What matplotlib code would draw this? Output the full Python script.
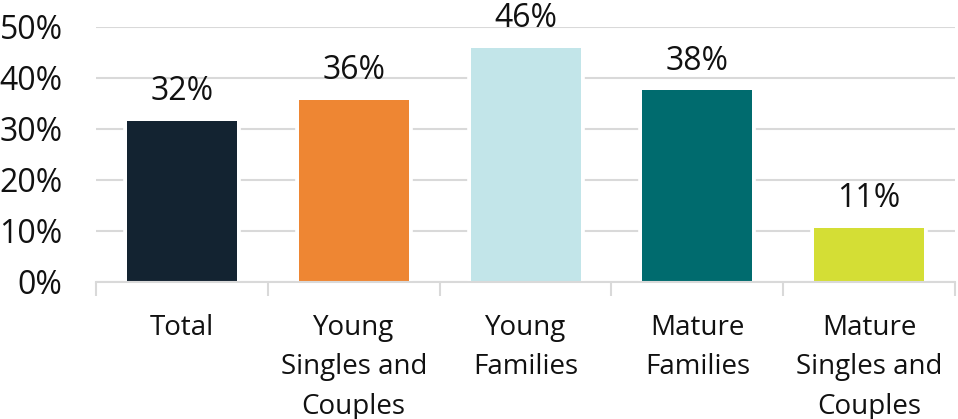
import matplotlib
matplotlib.use("Agg")
import matplotlib.pyplot as plt

plt.rcParams['font.family'] = ['Open Sans', 'DejaVu Sans']

categories = ["Total", "Young\nSingles and\nCouples", "Young\nFamilies", "Mature\nFamilies", "Mature\nSingles and\nCouples"]
values = [31.6, 35.7, 45.9, 37.6, 10.6]
colors = ["#132331", "#EE8633", "#C2E5E9", "#006B6E", "#D4DE35"]
yticks = [0, 10, 20, 30, 40, 50]

fig = plt.figure(figsize=(9.58, 4.19), dpi=100)
ax = fig.add_axes([0.1002, 0.327, 0.8968, 0.6086])

x = list(range(len(categories)))
ax.bar(x, values, width=0.64, color=colors, edgecolor="white", linewidth=5.5, zorder=1)
ax.bar(x, values, width=0.64, color=colors, linewidth=0, zorder=1.1)

for xi, v in zip(x, values):
    ax.annotate(f"{v:.0f}%", (xi, v), xytext=(0, 9), textcoords="offset points",
                ha="center", va="bottom", fontsize=23, color="#111111", annotation_clip=False)

ax.set_xlim(-0.5, len(categories) - 0.5)
ax.set_ylim(0, 50)
ax.set_yticks(yticks)
ax.set_yticklabels([f"{t}%" for t in yticks], fontsize=23, color="#111111")
ax.yaxis.grid(True, color="#D9D9D9", linewidth=1.5)
ax.set_axisbelow(True)
ax.tick_params(axis="y", length=0, pad=24)

ax.set_xticks(x)
ax.set_xticklabels(categories, fontsize=20, color="#111111", linespacing=1.54)
ax.set_xticks([i - 0.5 for i in range(len(categories) + 1)], minor=True)
ax.tick_params(axis="x", which="major", length=0, pad=23)
ax.tick_params(axis="x", which="minor", length=10, width=1.5, color="#D9D9D9")

for s in ["top", "right", "left"]:
    ax.spines[s].set_visible(False)
ax.spines["bottom"].set_color("#D9D9D9")
ax.spines["bottom"].set_linewidth(1.5)

fig.savefig("out.png", dpi=100)
